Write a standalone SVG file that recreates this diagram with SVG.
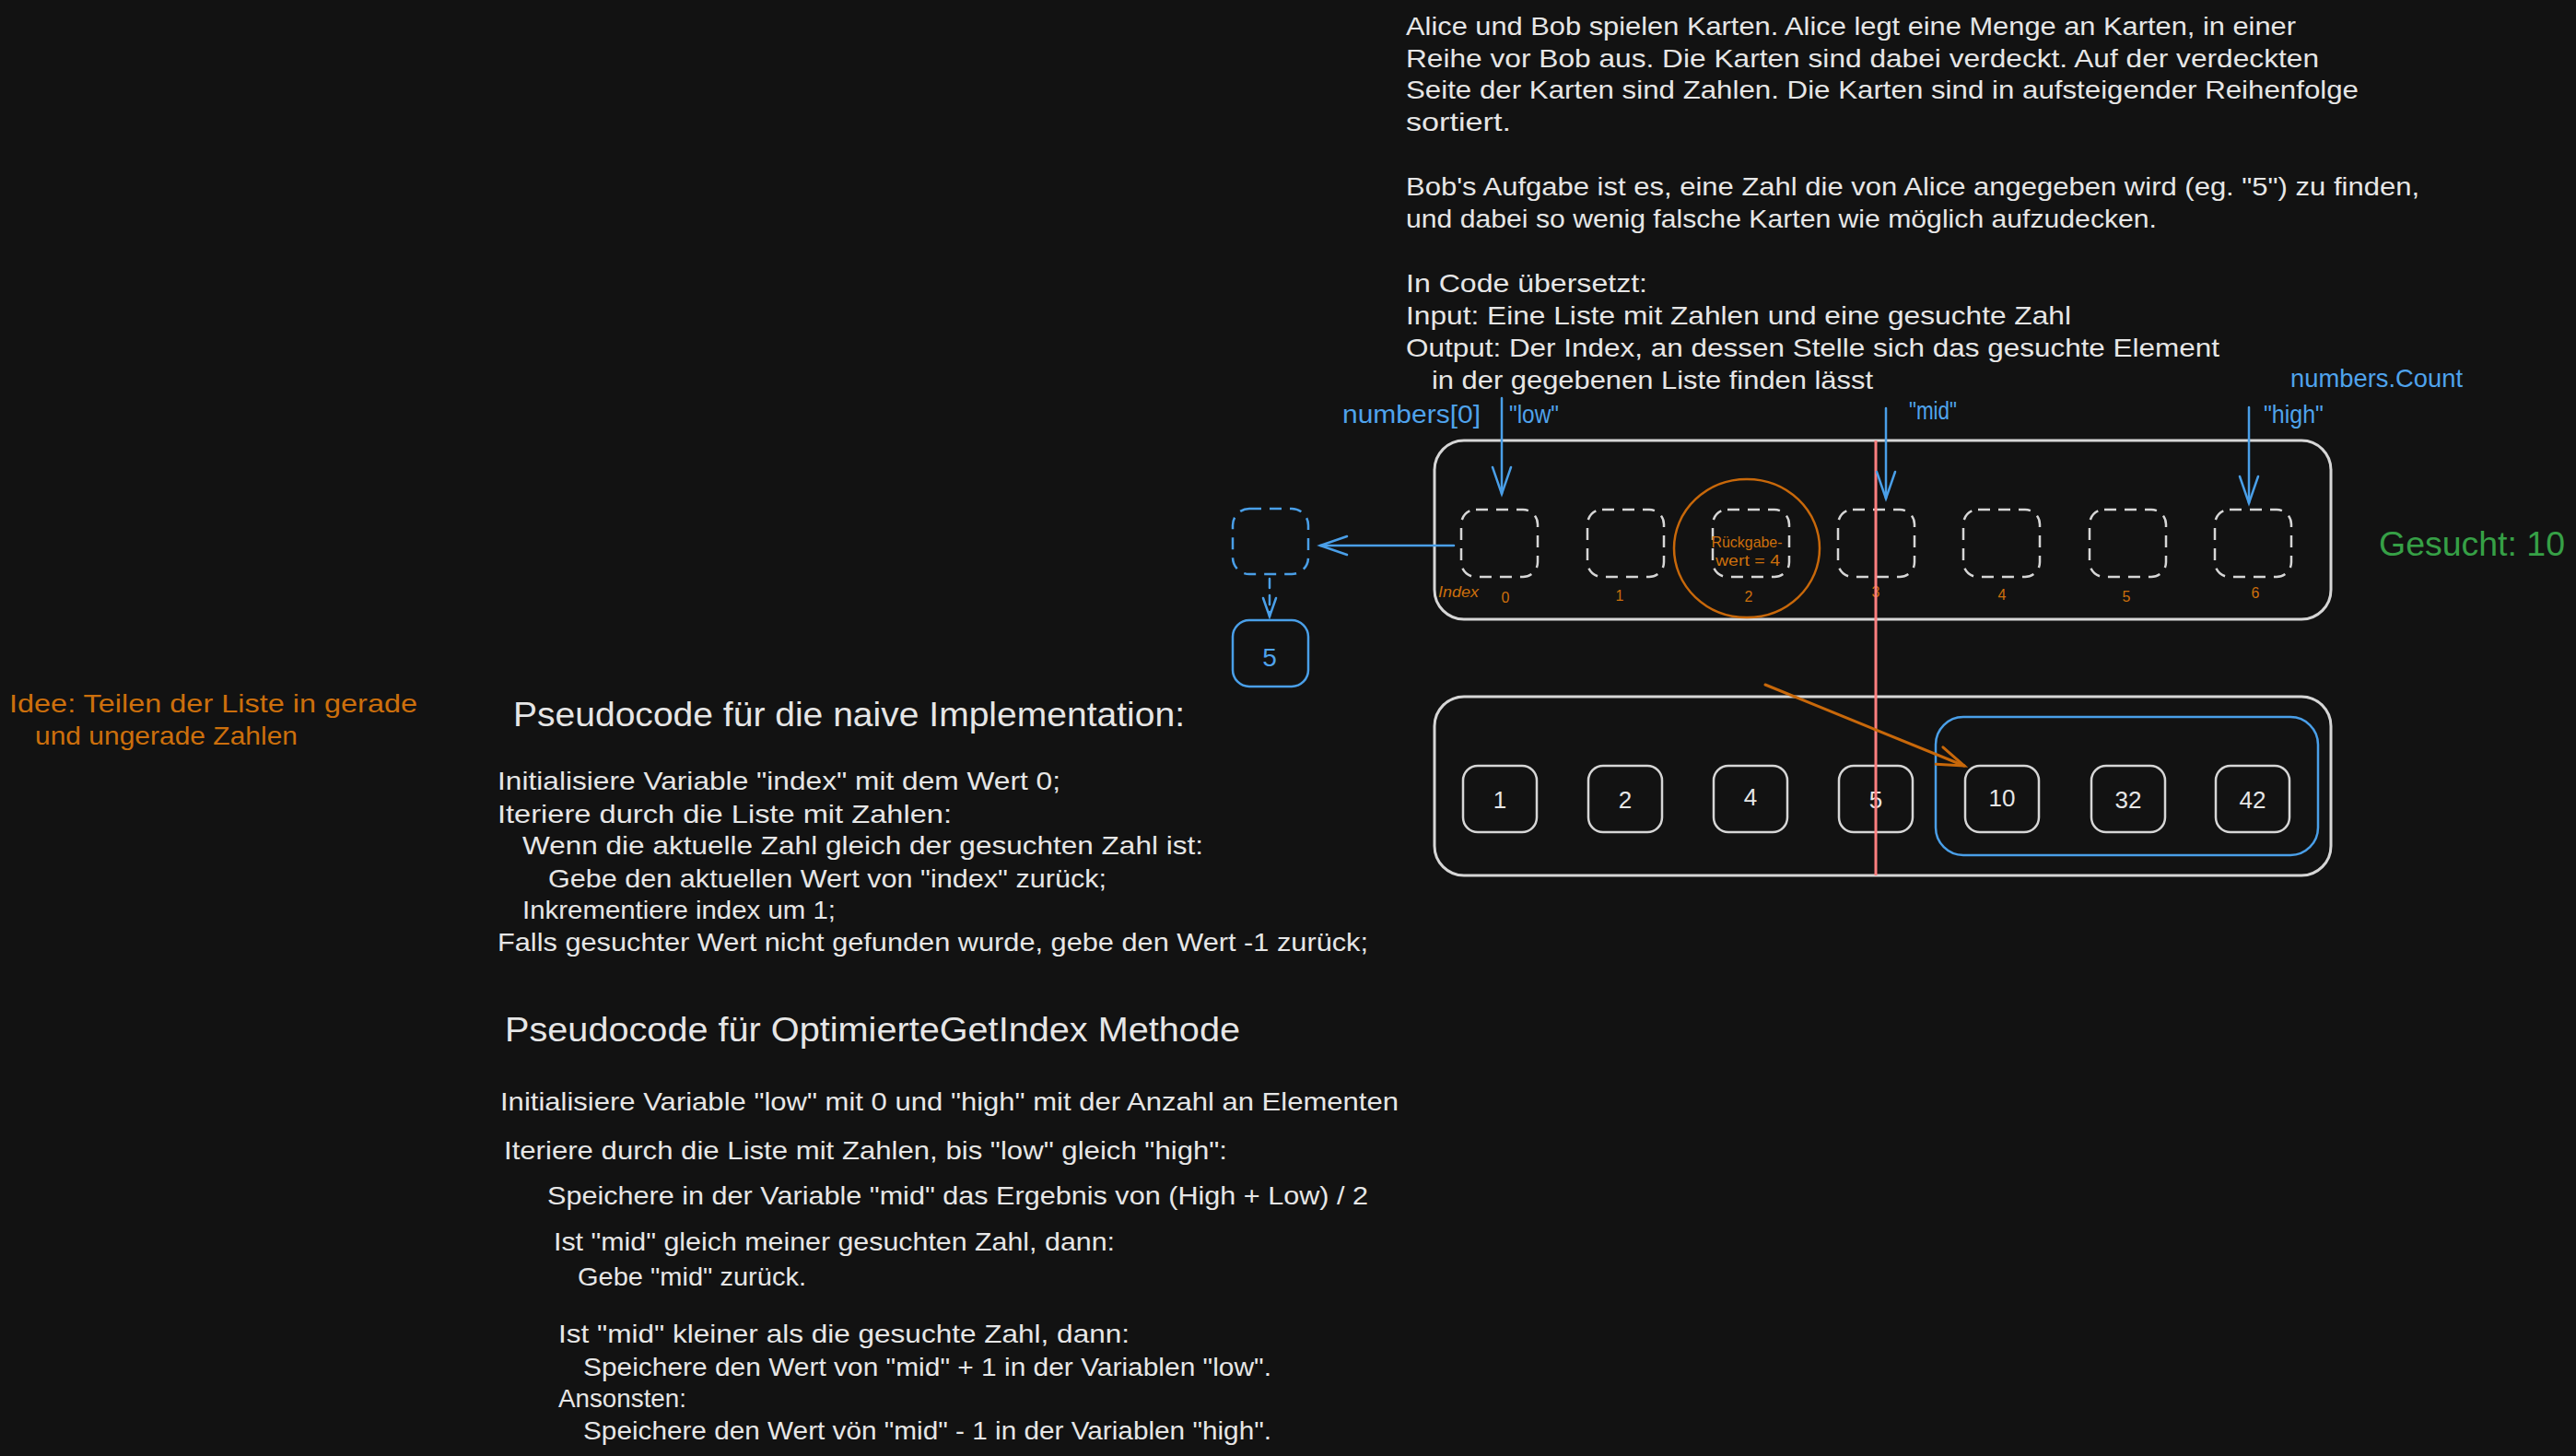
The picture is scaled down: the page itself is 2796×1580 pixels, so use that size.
<svg xmlns="http://www.w3.org/2000/svg" width="2796" height="1580" viewBox="0 0 2796 1580">
<style>
text{font-family:"Liberation Sans","DejaVu Sans",sans-serif;}
.t{fill:#e6e6e6;font-size:28px;}
.h{fill:#e6e6e6;font-size:36px;}
.or{fill:#cc6f0c;}
.bl{fill:#4fa3ec;}
.box{fill:none;stroke:#d6d6d6;stroke-width:3;}
.dbox{fill:none;stroke:#d6d6d6;stroke-width:2.5;stroke-dasharray:13 9;}
.vbox{fill:none;stroke:#d6d6d6;stroke-width:2.5;}
.val{fill:#e6e6e6;font-size:26px;text-anchor:middle;}
.idx{fill:#cc6f0c;font-size:16px;text-anchor:middle;}
.arr{fill:none;stroke:#4a9fe8;stroke-width:2.5;stroke-linecap:round;}
</style>
<defs>
<marker id="ahB" markerUnits="userSpaceOnUse" markerWidth="34" markerHeight="24" refX="30" refY="11" orient="auto" overflow="visible"><path d="M1,1 L30,11 L1,21" fill="none" stroke="#4a9fe8" stroke-width="2.5" stroke-linecap="round"/></marker>
<marker id="ahBs" markerUnits="userSpaceOnUse" markerWidth="24" markerHeight="18" refX="21" refY="8" orient="auto" overflow="visible"><path d="M1,1 L21,8 L1,15" fill="none" stroke="#4a9fe8" stroke-width="2.5" stroke-linecap="round"/></marker>
<marker id="ahO" markerUnits="userSpaceOnUse" markerWidth="34" markerHeight="24" refX="30" refY="11" orient="auto" overflow="visible"><path d="M1,1 L30,11 L1,21" fill="none" stroke="#c8680a" stroke-width="3" stroke-linecap="round"/></marker>
</defs>
<rect width="2796" height="1580" fill="#121212"/>

<g id="description">
<text class="t" x="1526" y="38" textLength="966" lengthAdjust="spacingAndGlyphs">Alice und Bob spielen Karten. Alice legt eine Menge an Karten, in einer</text>
<text class="t" x="1526" y="73" textLength="991" lengthAdjust="spacingAndGlyphs">Reihe vor Bob aus. Die Karten sind dabei verdeckt. Auf der verdeckten</text>
<text class="t" x="1526" y="107" textLength="1034" lengthAdjust="spacingAndGlyphs">Seite der Karten sind Zahlen. Die Karten sind in aufsteigender Reihenfolge</text>
<text class="t" x="1526" y="142" textLength="114" lengthAdjust="spacingAndGlyphs">sortiert.</text>
<text class="t" x="1526" y="212" textLength="1100" lengthAdjust="spacingAndGlyphs">Bob's Aufgabe ist es, eine Zahl die von Alice angegeben wird (eg. "5") zu finden,</text>
<text class="t" x="1526" y="247" textLength="815" lengthAdjust="spacingAndGlyphs">und dabei so wenig falsche Karten wie möglich aufzudecken.</text>
<text class="t" x="1526" y="317" textLength="262" lengthAdjust="spacingAndGlyphs">In Code übersetzt:</text>
<text class="t" x="1526" y="352" textLength="722" lengthAdjust="spacingAndGlyphs">Input: Eine Liste mit Zahlen und eine gesuchte Zahl</text>
<text class="t" x="1526" y="387" textLength="883" lengthAdjust="spacingAndGlyphs">Output: Der Index, an dessen Stelle sich das gesuchte Element</text>
<text class="t" x="1554" y="422" textLength="479" lengthAdjust="spacingAndGlyphs">in der gegebenen Liste finden lässt</text>
</g>

<g id="idee">
<text class="or" font-size="28" x="10" y="773" textLength="443" lengthAdjust="spacingAndGlyphs">Idee: Teilen der Liste in gerade</text>
<text class="or" font-size="28" x="38" y="808" textLength="285" lengthAdjust="spacingAndGlyphs">und ungerade Zahlen</text>
</g>

<g id="naive">
<text class="h" x="557" y="788" textLength="729" lengthAdjust="spacingAndGlyphs">Pseudocode für die naive Implementation:</text>
<text class="t" x="540" y="857" textLength="611" lengthAdjust="spacingAndGlyphs">Initialisiere Variable "index" mit dem Wert 0;</text>
<text class="t" x="540" y="893" textLength="493" lengthAdjust="spacingAndGlyphs">Iteriere durch die Liste mit Zahlen:</text>
<text class="t" x="567" y="927" textLength="739" lengthAdjust="spacingAndGlyphs">Wenn die aktuelle Zahl gleich der gesuchten Zahl ist:</text>
<text class="t" x="595" y="963" textLength="606" lengthAdjust="spacingAndGlyphs">Gebe den aktuellen Wert von "index" zurück;</text>
<text class="t" x="567" y="997" textLength="340" lengthAdjust="spacingAndGlyphs">Inkrementiere index um 1;</text>
<text class="t" x="540" y="1032" textLength="945" lengthAdjust="spacingAndGlyphs">Falls gesuchter Wert nicht gefunden wurde, gebe den Wert -1 zurück;</text>
</g>

<g id="optimiert">
<text class="h" x="548" y="1130" textLength="798" lengthAdjust="spacingAndGlyphs">Pseudocode für OptimierteGetIndex Methode</text>
<text class="t" x="543" y="1205" textLength="975" lengthAdjust="spacingAndGlyphs">Initialisiere Variable "low" mit 0 und "high" mit der Anzahl an Elementen</text>
<text class="t" x="547" y="1258" textLength="785" lengthAdjust="spacingAndGlyphs">Iteriere durch die Liste mit Zahlen, bis "low" gleich "high":</text>
<text class="t" x="594" y="1307" textLength="891" lengthAdjust="spacingAndGlyphs">Speichere in der Variable "mid" das Ergebnis von (High + Low) / 2</text>
<text class="t" x="601" y="1357" textLength="609" lengthAdjust="spacingAndGlyphs">Ist "mid" gleich meiner gesuchten Zahl, dann:</text>
<text class="t" x="627" y="1395" textLength="248" lengthAdjust="spacingAndGlyphs">Gebe "mid" zurück.</text>
<text class="t" x="606" y="1457" textLength="620" lengthAdjust="spacingAndGlyphs">Ist "mid" kleiner als die gesuchte Zahl, dann:</text>
<text class="t" x="633" y="1493" textLength="747" lengthAdjust="spacingAndGlyphs">Speichere den Wert von "mid" + 1 in der Variablen "low".</text>
<text class="t" x="606" y="1527" textLength="139" lengthAdjust="spacingAndGlyphs">Ansonsten:</text>
<text class="t" x="633" y="1562" textLength="747" lengthAdjust="spacingAndGlyphs">Speichere den Wert vön "mid" - 1 in der Variablen "high".</text>
</g>

<g id="index-row">
<rect class="box" x="1557" y="478" width="973" height="194" rx="32"/>
<rect class="dbox" x="1586" y="553" width="83" height="73" rx="16"/>
<rect class="dbox" x="1723" y="553" width="83" height="73" rx="16"/>
<rect class="dbox" x="1859" y="553" width="83" height="73" rx="16"/>
<rect class="dbox" x="1995" y="553" width="83" height="73" rx="16"/>
<rect class="dbox" x="2131" y="553" width="83" height="73" rx="16"/>
<rect class="dbox" x="2268" y="553" width="83" height="73" rx="16"/>
<rect class="dbox" x="2404" y="553" width="83" height="73" rx="16"/>
<text class="or" font-size="16" x="1561" y="648" textLength="44" lengthAdjust="spacingAndGlyphs" font-style="italic">Index</text>
<text class="idx" x="1634" y="654">0</text>
<text class="idx" x="1758" y="652">1</text>
<text class="idx" x="1898" y="653">2</text>
<text class="idx" x="2036" y="648">3</text>
<text class="idx" x="2173" y="651">4</text>
<text class="idx" x="2308" y="653">5</text>
<text class="idx" x="2448" y="649">6</text>
</g>

<g id="rueckgabe">
<ellipse cx="1896" cy="595" rx="79" ry="75" fill="none" stroke="#c8680a" stroke-width="2.5"/>
<text class="or" font-size="17" x="1896" y="594" text-anchor="middle" textLength="77" lengthAdjust="spacingAndGlyphs">Rückgabe-</text>
<text class="or" font-size="17" x="1897" y="614" text-anchor="middle" textLength="70" lengthAdjust="spacingAndGlyphs">wert = 4</text>
</g>

<g id="value-row">
<rect class="box" x="1557" y="756" width="973" height="194" rx="32"/>
<rect x="2101" y="778" width="415" height="150" rx="30" fill="none" stroke="#4a9fe8" stroke-width="2.5"/>
<rect class="vbox" x="1588" y="831" width="80" height="72" rx="16"/>
<rect class="vbox" x="1724" y="831" width="80" height="72" rx="16"/>
<rect class="vbox" x="1860" y="831" width="80" height="72" rx="16"/>
<rect class="vbox" x="1996" y="831" width="80" height="72" rx="16"/>
<rect class="vbox" x="2133" y="831" width="80" height="72" rx="16"/>
<rect class="vbox" x="2270" y="831" width="80" height="72" rx="16"/>
<rect class="vbox" x="2405" y="831" width="80" height="72" rx="16"/>
<text class="val" x="1628" y="877">1</text>
<text class="val" x="1764" y="877">2</text>
<text class="val" x="1900" y="874">4</text>
<text class="val" x="2036" y="877">5</text>
<text class="val" x="2173" y="875">10</text>
<text class="val" x="2310" y="877">32</text>
<text class="val" x="2445" y="877">42</text>
</g>

<g id="result-slot">
<rect x="1338" y="552" width="82" height="71" rx="18" fill="none" stroke="#4a9fe8" stroke-width="2.5" stroke-dasharray="13 9"/>
</g>
<g id="result-value">
<rect x="1338" y="673" width="82" height="72" rx="18" fill="none" stroke="#4a9fe8" stroke-width="2.5"/>
<text class="bl" font-size="28" x="1378" y="723" text-anchor="middle">5</text>
</g>

<g id="labels">
<text class="bl" font-size="28" x="1457" y="459" textLength="150" lengthAdjust="spacingAndGlyphs">numbers[0]</text>
<text class="bl" font-size="28" x="1638" y="459" textLength="54" lengthAdjust="spacingAndGlyphs">"low"</text>
<text class="bl" font-size="28" x="2072" y="455" textLength="52" lengthAdjust="spacingAndGlyphs">"mid"</text>
<text class="bl" font-size="28" x="2457" y="459" textLength="65" lengthAdjust="spacingAndGlyphs">"high"</text>
<text class="bl" font-size="28" x="2486" y="420" textLength="187" lengthAdjust="spacingAndGlyphs">numbers.Count</text>
<text fill="#36a046" font-size="36" x="2582" y="603" textLength="202" lengthAdjust="spacingAndGlyphs">Gesucht: 10</text>
</g>

<g id="mid-line">
<line x1="2036" y1="478" x2="2036" y2="950" stroke="#ff7f7f" stroke-width="3"/>
</g>

<g id="connectors">
<path class="arr" d="M1630,432 L1630,536" marker-end="url(#ahB)"/>
<path class="arr" d="M2047,443 L2047,541" marker-end="url(#ahB)"/>
<path class="arr" d="M2441,442 L2441,546" marker-end="url(#ahB)"/>
<path class="arr" d="M1578,592 L1433,592" stroke-width="3" marker-end="url(#ahB)"/>
<path class="arr" d="M1378,628 L1378,669" stroke-dasharray="10 8" marker-end="url(#ahBs)"/>
<path d="M1916,743 L2132,831" fill="none" stroke="#c8680a" stroke-width="3" stroke-linecap="round" marker-end="url(#ahO)"/>
</g>
</svg>
